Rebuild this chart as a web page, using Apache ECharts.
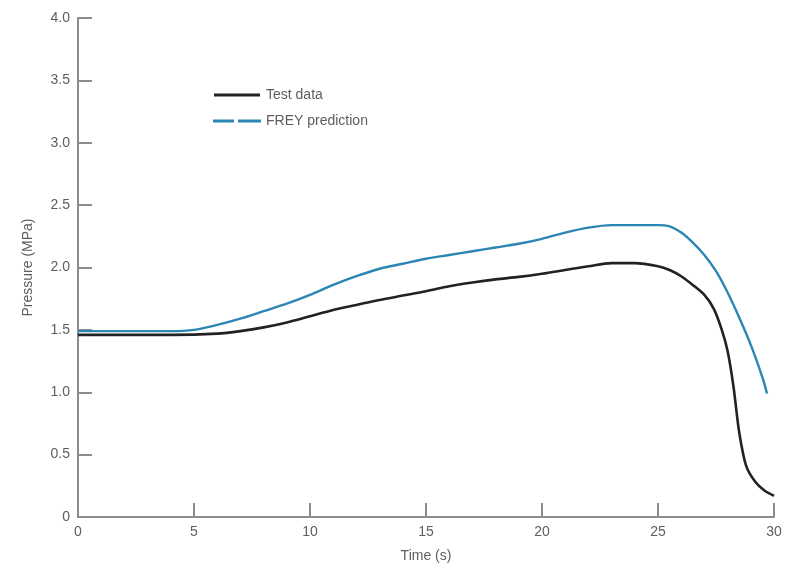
<!DOCTYPE html>
<html>
<head>
<meta charset="utf-8">
<script src="https://cdn.jsdelivr.net/npm/echarts@6/dist/echarts.min.js"></script>
<style>
  html, body { margin: 0; padding: 0; background: #fff; }
  #chart { width: 790px; height: 573px; }
</style>
</head>
<body>
<div id="chart"></div>
<script>
// 读图所得数据（时间 s，压力 MPa）
var testTimes = [0, 2, 4, 6, 7, 8, 9, 10, 11, 12, 13, 14, 15, 16, 17, 18, 19, 20, 21, 22, 23, 24, 25, 25.5, 26, 26.5, 27, 27.4, 27.75, 28, 28.25, 28.5, 28.8, 29.2, 29.6, 30];
var testValues = [1.46, 1.46, 1.46, 1.47, 1.49, 1.52, 1.56, 1.61, 1.66, 1.70, 1.74, 1.775, 1.81, 1.85, 1.88, 1.905, 1.925, 1.95, 1.98, 2.01, 2.035, 2.035, 2.01, 1.98, 1.93, 1.86, 1.78, 1.67, 1.50, 1.33, 1.05, 0.68, 0.41, 0.28, 0.21, 0.17];

var freyTimes = [0, 2, 4, 5, 6, 7, 8, 9, 10, 11, 12, 13, 14, 15, 16, 17, 18, 19, 20, 21, 22, 23, 24, 25, 25.5, 26, 26.5, 27, 27.5, 28, 28.5, 29, 29.5, 29.7];
var freyValues = [1.49, 1.49, 1.49, 1.50, 1.54, 1.59, 1.65, 1.71, 1.78, 1.86, 1.93, 1.99, 2.03, 2.07, 2.10, 2.13, 2.16, 2.19, 2.23, 2.28, 2.32, 2.34, 2.34, 2.34, 2.33, 2.28, 2.20, 2.10, 1.97, 1.80, 1.60, 1.38, 1.12, 0.99];

var seriesNames = ['Test data', 'FREY prediction'];

function pairUp(xs, ys) {
  return xs.map(function(x, i) { return [x, ys[i]]; });
}

var textColor = '#5e5e5e';
var axisColor = '#8c8c8c';
var testColor = '#222222';
var freyColor = '#2b86b4';
var fontFamily = '"Liberation Sans", Arial, sans-serif';

var chart = echarts.init(document.getElementById('chart'), null, { renderer: 'canvas' });

var option = {
  animation: false,
  backgroundColor: '#fff',
  textStyle: { fontFamily: fontFamily },
  grid: { left: 78, right: 16, top: 18, bottom: 56 },
  legend: {
    data: [
      { name: seriesNames[0], icon: 'path://M0,0H46V3H0Z', itemStyle: { color: testColor } },
      { name: seriesNames[1], icon: 'path://M0,0H22V3H0Z M26,0H50V3H26Z', itemStyle: { color: freyColor } }
    ],
    orient: 'vertical',
    left: 208,
    top: 83,
    itemWidth: 48,
    itemHeight: 3,
    itemGap: 12,
    textStyle: { fontSize: 14, color: textColor, fontFamily: fontFamily }
  },
  xAxis: {
    type: 'value',
    min: 0,
    max: 30,
    interval: 5,
    name: 'Time (s)',
    nameLocation: 'middle',
    nameGap: 32,
    nameTextStyle: { fontSize: 14, color: textColor },
    axisLine: { lineStyle: { color: axisColor, width: 2 } },
    axisTick: { inside: true, length: 14, lineStyle: { color: axisColor, width: 2 } },
    axisLabel: { fontSize: 14, color: textColor, margin: 8 },
    splitLine: { show: false }
  },
  yAxis: {
    type: 'value',
    min: 0,
    max: 4,
    interval: 0.5,
    name: 'Pressure (MPa)',
    nameLocation: 'middle',
    nameGap: 43,
    nameTextStyle: { fontSize: 14, color: textColor },
    axisLine: { show: true, lineStyle: { color: axisColor, width: 2 } },
    axisTick: { show: true, inside: true, length: 14, lineStyle: { color: axisColor, width: 2 } },
    axisLabel: {
      fontSize: 14,
      color: textColor,
      margin: 8,
      formatter: function(v) { return v === 0 ? '0' : v.toFixed(1); }
    },
    splitLine: { show: false }
  },
  series: [
    {
      name: seriesNames[0],
      type: 'line',
      data: pairUp(testTimes, testValues),
      smooth: 0.3,
      showSymbol: false,
      symbol: 'none',
      lineStyle: { color: testColor, width: 2.6 },
      itemStyle: { color: testColor },
      z: 3
    },
    {
      name: seriesNames[1],
      type: 'line',
      data: pairUp(freyTimes, freyValues),
      smooth: 0.3,
      showSymbol: false,
      symbol: 'none',
      lineStyle: { color: freyColor, width: 2.4 },
      itemStyle: { color: freyColor },
      z: 2
    }
  ]
};

chart.setOption(option);
</script>
</body>
</html>
